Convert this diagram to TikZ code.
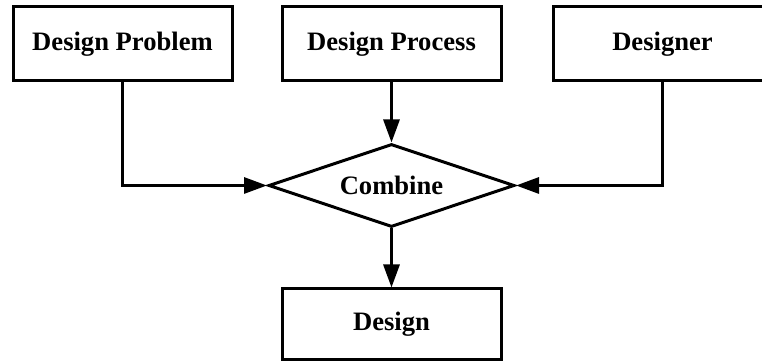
\documentclass[tikz,border=0pt]{standalone}
\usepackage{fontspec}
\setmainfont{Liberation Serif}
\usetikzlibrary{shapes.geometric,arrows.meta}

\tikzset{
	box/.style={draw, line width=1.5pt, minimum width=109.5pt, minimum height=37pt, inner sep=0pt, font=\fontsize{13.3}{15}\selectfont\bfseries},
	choice/.style={draw, diamond, aspect=2.96, line width=1.5pt, minimum width=123pt, minimum height=41.5pt, inner sep=0pt, font=\fontsize{13.3}{15}\selectfont\bfseries},
	flow/.style={line width=1.5pt, -{Triangle[length=11.5pt,width=8pt]}}
}

\begin{document}
\begin{tikzpicture}[x=0.5pt, y=-0.5pt]
			\useasboundingbox (0,0) rectangle (762,362);
			
			%%top row
			\node[box] (problem) at (122.5,44){Design Problem};
			\node[box] (process) at (391.5,44){Design Process};
			\node[box] (designer) at (662.5,44){Designer};
			
			%%middle and bottom
			\node[choice] (combine) at (391.5,185.5){Combine};
			\node[box, minimum height=35.5pt] (design) at (391.5,324.5){Design};
			
			%%arrows
			\draw[flow] (problem.south) |- (combine.west);
			\draw[flow] (designer.south) |- (combine.east);
			\draw[flow] (process) -- (combine);
			\draw[flow] (combine) -- (design);
		\end{tikzpicture}
\end{document}
